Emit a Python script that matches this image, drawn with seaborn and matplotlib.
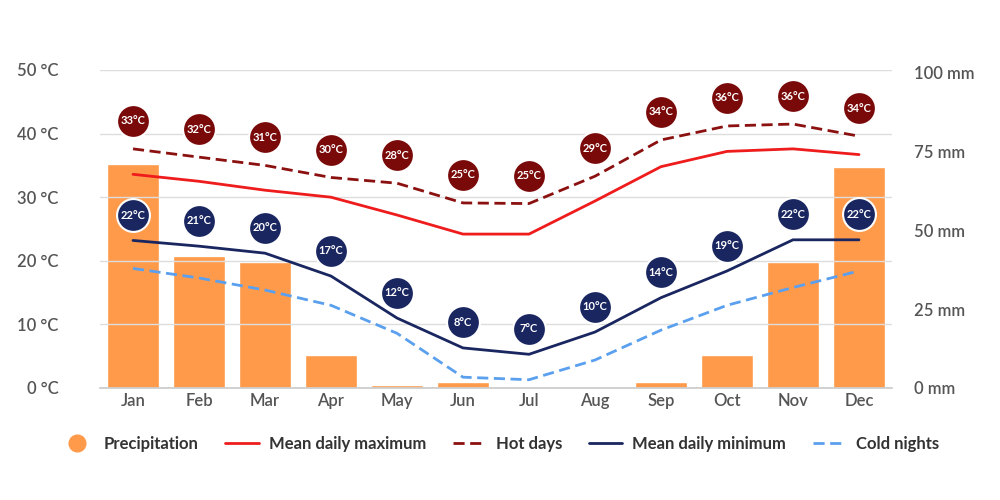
import matplotlib
matplotlib.use("Agg")
import matplotlib.pyplot as plt
import seaborn as sns
import pandas as pd
import numpy as np
from matplotlib.lines import Line2D

months = ["Jan","Feb","Mar","Apr","May","Jun","Jul","Aug","Sep","Oct","Nov","Dec"]
precip = [71, 42, 40, 10.5, 1, 2, 0, 0, 2, 10.5, 40, 70]
mean_max = [33.6, 32.5, 31.1, 30.0, 27.2, 24.2, 24.2, 29.4, 34.8, 37.2, 37.6, 36.7]
hot_days = [37.6, 36.3, 35.0, 33.1, 32.2, 29.1, 29.0, 33.3, 39.0, 41.2, 41.5, 39.6]
mean_min = [23.2, 22.3, 21.2, 17.6, 11.0, 6.3, 5.3, 8.8, 14.2, 18.4, 23.3, 23.3]
cold_nights = [18.8, 17.3, 15.4, 13.0, 8.6, 1.7, 1.3, 4.4, 9.1, 13.0, 15.8, 18.4]
hot_labels = [33, 32, 31, 30, 28, 25, 25, 29, 34, 36, 36, 34]
cold_labels = [22, 21, 20, 17, 12, 8, 7, 10, 14, 19, 22, 22]

df = pd.DataFrame({"month": months, "precip": precip})
x = np.arange(12)
grey = "#555555"

sns.set_theme(style="white")
plt.rcParams['font.family'] = ['Lato', 'DejaVu Sans']
fig = plt.figure(figsize=(10, 5), dpi=100)
ax2 = fig.add_axes([0.1, 0.224, 0.792, 0.636])
ax = ax2.twinx()
ax.yaxis.tick_left(); ax.yaxis.set_label_position("left")
ax2.yaxis.tick_right()

sns.barplot(data=df, x="month", y="precip", color="#FF9A4A", saturation=1, width=0.8, ax=ax2)
ax2.set_ylim(0, 100.9)
ax2.set_yticks([0, 25, 50, 75, 100])
ax2.set_yticklabels([f"{v} mm" for v in [0, 25, 50, 75, 100]], color=grey, fontsize=12, fontweight="semibold")
ax2.set_xlabel(""); ax2.set_ylabel("")
ax2.tick_params(axis="x", colors=grey, labelsize=12, length=0)
for t in ax2.get_xticklabels():
    t.set_fontweight("semibold")
ax2.tick_params(axis="y", length=0, pad=16)

sns.lineplot(x=x, y=mean_max, color="#EE1C1C", lw=2, ax=ax)
sns.lineplot(x=x, y=hot_days, color="#8B1010", lw=2, ls=(0, (4, 2)), ax=ax)
sns.lineplot(x=x, y=mean_min, color="#1A2660", lw=2, ax=ax)
sns.lineplot(x=x, y=cold_nights, color="#5AA0EE", lw=2, ls=(0, (4, 2)), ax=ax)
ax.set_ylim(0, 50)
ax.set_xlim(-0.5, 11.5)
ax.set_yticks(range(0, 51, 10))
ax.set_yticklabels([f"{v} °C" for v in range(0, 51, 10)], color=grey, fontsize=12, fontweight="semibold")
ax.tick_params(axis="y", length=0, pad=30)
ax.grid(axis="y", color="#dddddd", lw=1)
ax.set_axisbelow(True)
ax2.set_zorder(0); ax.set_zorder(1); ax.patch.set_visible(False)
for a in (ax, ax2):
    for s in a.spines.values():
        s.set_visible(False)
ax.spines["bottom"].set_visible(True); ax.spines["bottom"].set_color("#cccccc")

def badge(xi, yv, txt, col):
    ax.scatter([xi], [yv], s=560, color=col, edgecolor="white", lw=1.5, zorder=5)
    ax.text(xi, yv, f"{txt}°C", color="white", fontsize=8, ha="center", va="center", zorder=6, fontweight="bold")

for i in range(12):
    badge(x[i], hot_days[i] + 4.4, hot_labels[i], "#7A0A0A")
    badge(x[i], mean_min[i] + 4.0, cold_labels[i], "#1A2660")

handles = [
    Line2D([], [], marker="o", ls="", color="#FF9A4A", markersize=12),
    Line2D([], [], color="#EE1C1C", lw=2),
    Line2D([], [], color="#8B1010", lw=2, ls=(0, (4, 2))),
    Line2D([], [], color="#1A2660", lw=2),
    Line2D([], [], color="#5AA0EE", lw=2, ls=(0, (4, 2))),
]
labels = ["Precipitation", "Mean daily maximum", "Hot days", "Mean daily minimum", "Cold nights"]
leg = fig.legend(handles, labels, loc="center", bbox_to_anchor=(0.5, 0.113), ncol=5, frameon=False,
                 handlelength=2, handletextpad=0.6, columnspacing=1.6,
                 prop={"weight": "bold", "size": 12})
for t in leg.get_texts():
    t.set_color("#333333")

fig.savefig("out.png", dpi=100)
